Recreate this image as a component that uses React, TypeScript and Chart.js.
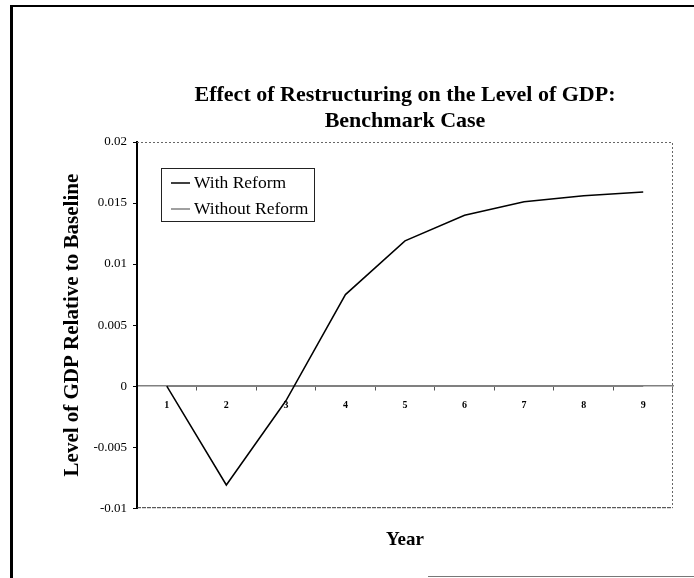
import React, { useEffect, useRef } from "react";
import { Chart, registerables } from "chart.js";

Chart.register(...registerables);

const years = ["1", "2", "3", "4", "5", "6", "7", "8", "9"];
const withReform = [0, -0.0081, -0.0012, 0.0075, 0.0119, 0.014, 0.0151, 0.0156, 0.0159];
const withoutReform = [0, 0, 0, 0, 0, 0, 0, 0, 0];
const titleLines = ["Effect of Restructuring on the Level of GDP:", "Benchmark Case"];
const yTitle = "Level of GDP Relative to Baseline";
const xTitle = "Year";

const SERIF = '"Liberation Serif", "Times New Roman", serif';

const plotFrame = {
  id: "plotFrame",
  beforeDatasetsDraw(chart: any) {
    const { ctx, chartArea: a } = chart;
    ctx.save();
    ctx.strokeStyle = "#666";
    ctx.lineWidth = 1;
    ctx.setLineDash([2, 2]);
    ctx.beginPath();
    ctx.moveTo(a.left, a.top + 0.5);
    ctx.lineTo(a.right - 0.5, a.top + 0.5);
    ctx.lineTo(a.right - 0.5, a.bottom - 0.5);
    ctx.stroke();
    ctx.strokeStyle = "#333";
    ctx.setLineDash([4, 1]);
    ctx.beginPath();
    ctx.moveTo(a.left, a.bottom - 0.5);
    ctx.lineTo(a.right - 0.5, a.bottom - 0.5);
    ctx.stroke();
    ctx.restore();
  },
};

const insetLegend = {
  id: "insetLegend",
  afterDatasetsDraw(chart: any) {
    const { ctx, chartArea: a } = chart;
    const x = a.left + 24;
    const y = a.top + 26;
    const w = 153;
    const h = 53;
    ctx.save();
    ctx.fillStyle = "#fff";
    ctx.fillRect(x, y, w, h);
    ctx.strokeStyle = "#222";
    ctx.lineWidth = 1;
    ctx.strokeRect(x + 0.5, y + 0.5, w, h);
    chart.data.datasets.forEach((ds: any, i: number) => {
      const cy = y + 15 + i * 26;
      ctx.strokeStyle = ds.borderColor;
      ctx.lineWidth = ds.borderWidth;
      ctx.beginPath();
      ctx.moveTo(x + 10, cy);
      ctx.lineTo(x + 29, cy);
      ctx.stroke();
      ctx.fillStyle = "#000";
      ctx.font = `17.5px ${SERIF}`;
      ctx.textBaseline = "middle";
      ctx.textAlign = "left";
      ctx.fillText(ds.label, x + 33, cy);
    });
    ctx.restore();
  },
};

export default function App() {
  const ref = useRef<HTMLCanvasElement | null>(null);

  useEffect(() => {
    if (!ref.current) return;
    const chart = new Chart(ref.current, {
      type: "line",
      data: {
        labels: years,
        datasets: [
          {
            label: "With Reform",
            data: withReform,
            borderColor: "#000",
            borderWidth: 1.5,
            pointRadius: 0,
            tension: 0,
            xAxisID: "x",
          },
          {
            label: "Without Reform",
            data: withoutReform,
            borderColor: "#808080",
            borderWidth: 1.5,
            pointRadius: 0,
            tension: 0,
            xAxisID: "x",
          },
        ],
      },
      options: {
        animation: false,
        responsive: false,
        maintainAspectRatio: false,
        layout: { padding: { left: 50, right: 21, top: 0, bottom: 0 } },
        plugins: {
          legend: { display: false },
          tooltip: { enabled: false },
          title: {
            display: true,
            fullSize: false,
            text: titleLines,
            color: "#000",
            font: { family: SERIF, size: 22, weight: "bold", lineHeight: 26 / 22 },
            padding: { top: 82, bottom: 8 },
          },
        },
        scales: {
          x: {
            type: "category",
            position: { y: 0 } as any,
            offset: true,
            afterFit: (s: any) => {
              s.height = 0;
            },
            grid: {
              display: true,
              drawOnChartArea: false,
              drawTicks: true,
              tickLength: 4,
              offset: true,
              color: "#555",
            },
            border: { display: true, color: "#808080", width: 1.5 },
            ticks: {
              color: "#000",
              padding: 9,
              maxRotation: 0,
              font: { family: SERIF, size: 10, weight: "bold" },
            },
          },
          xb: {
            type: "category",
            position: "bottom",
            grid: { display: false },
            border: { display: false },
            ticks: { display: false },
            title: {
              display: true,
              text: xTitle,
              color: "#000",
              font: { family: SERIF, size: 19, weight: "bold" },
              padding: { top: 12, bottom: 27 },
            },
          },
          y: {
            min: -0.01,
            max: 0.02,
            afterFit: (s: any) => {
              s.width = 87;
            },
            grid: {
              display: true,
              drawOnChartArea: false,
              drawTicks: true,
              tickLength: 4,
              color: "#000",
            },
            border: { display: true, color: "#000", width: 2 },
            ticks: {
              stepSize: 0.005,
              color: "#000",
              padding: 6,
              font: { family: SERIF, size: 13 },
              callback: (v: any) => String(Number(Number(v).toFixed(3))),
            },
            title: {
              display: true,
              text: yTitle,
              color: "#000",
              font: { family: SERIF, size: 21, weight: "bold" },
              padding: { top: 10, bottom: 0 },
            },
          },
        },
      },
      plugins: [plotFrame, insetLegend],
    });
    return () => chart.destroy();
  }, []);

  return (
    <div style={{ position: "fixed", left: 0, top: 0, width: 694, height: 578, background: "#fff" }}>
      <canvas ref={ref} width={694} height={578} style={{ position: "absolute", left: 0, top: 0 }} />
      <div style={{ position: "absolute", left: 10, top: 5, width: 3, height: 573, background: "#000" }} />
      <div style={{ position: "absolute", left: 10, top: 5, width: 684, height: 2, background: "#000" }} />
      <div style={{ position: "absolute", left: 428, top: 576, width: 266, height: 1, background: "#777" }} />
    </div>
  );
}
